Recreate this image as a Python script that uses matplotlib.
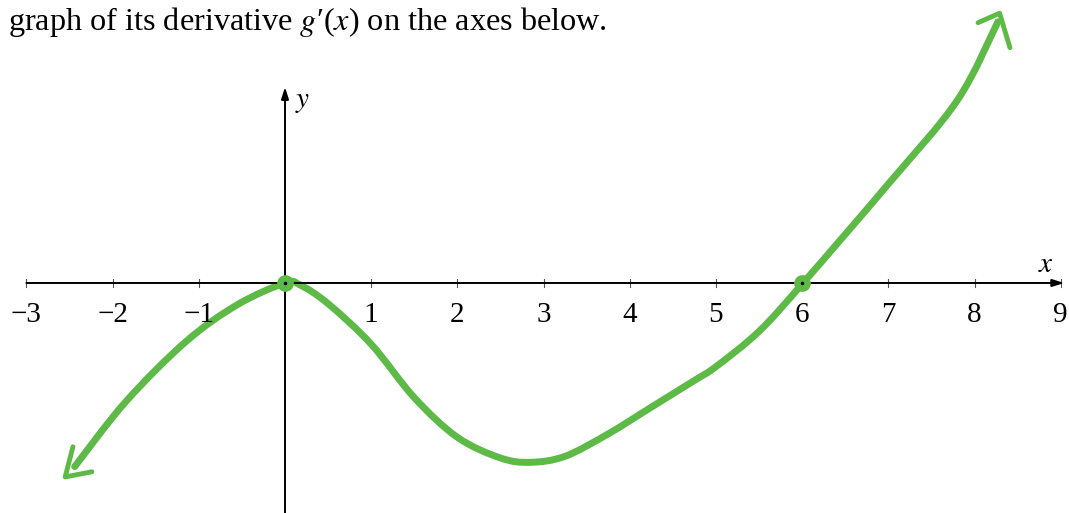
import matplotlib
matplotlib.use("Agg")
import matplotlib.pyplot as plt
from matplotlib.path import Path
from matplotlib.patches import PathPatch

plt.rcParams["font.family"] = ["Liberation Serif", "DejaVu Serif"]
plt.rcParams["mathtext.fontset"] = "stix"

# Sketched derivative curve g'(x)
curve_x = [-2.44, -1.85, -1.15, -0.55, 0.0, 0.17, 0.5, 1.0, 1.5, 2.0,
           2.5, 2.85, 3.25, 3.75, 4.25, 4.75, 5.0, 5.5, 6.01, 7.0, 7.8, 8.27]
curve_y = [-2.13, -1.38, -0.68, -0.25, 0.0, -0.02, -0.24, -0.71,
           -1.33, -1.79, -2.03, -2.08, -2.01, -1.75, -1.44, -1.13, -0.97, -0.56,
           0.0, 1.15, 2.12, 3.03]

# Hand-drawn arrowheads at both ends
left_head_x = [-2.46, -2.55, -2.24]
left_head_y = [-1.90, -2.25, -2.19]
right_head_x = [8.04, 8.29, 8.41]
right_head_y = [3.02, 3.13, 2.73]

# Marked zeros of g'
zeros_x = [0, 6]
zeros_y = [0, 0]

tick_values = [-3, -2, -1, 1, 2, 3, 4, 5, 6, 7, 8, 9]
tick_labels = ["\u22123", "\u22122", "\u22121", "1", "2", "3", "4", "5", "6", "7", "8", "9"]

green = "#5dba46"
unit = 86.2  # pixels per unit


def smooth_path(xs, ys):
    """Cubic Bezier path through the given points (Catmull-Rom tangents)."""
    pts = list(zip(xs, ys))
    verts = [pts[0]]
    codes = [Path.MOVETO]
    n = len(pts)
    for i in range(n - 1):
        p0 = pts[i - 1] if i > 0 else pts[i]
        p1 = pts[i]
        p2 = pts[i + 1]
        p3 = pts[i + 2] if i + 2 < n else pts[i + 1]
        c1 = (p1[0] + (p2[0] - p0[0]) / 6, p1[1] + (p2[1] - p0[1]) / 6)
        c2 = (p2[0] - (p3[0] - p1[0]) / 6, p2[1] - (p3[1] - p1[1]) / 6)
        verts += [c1, c2, p2]
        codes += [Path.CURVE4] * 3
    return Path(verts, codes)


fig = plt.figure(figsize=(10.69, 5.13), dpi=100)
ax = fig.add_axes([0, 0, 1, 1])
ax.set_xlim(-285 / unit, (1069 - 285) / unit)
ax.set_ylim(-(513 - 283) / unit, 283 / unit)
ax.axis("off")

arrow_style = "-|>,head_length=0.7,head_width=0.22"
# x axis with arrow
ax.annotate("", xy=(9.04, 0), xytext=(-3.0, 0),
            arrowprops=dict(arrowstyle=arrow_style, color="black", lw=1.4,
                            shrinkA=0, shrinkB=0))
# y axis with arrow
ax.annotate("", xy=(0, (283 - 87) / unit), xytext=(0, -2.7),
            arrowprops=dict(arrowstyle=arrow_style, color="black", lw=1.4,
                            shrinkA=0, shrinkB=0))

tick_half = 4 / unit
for v, lab in zip(tick_values, tick_labels):
    ax.plot([v, v], [-tick_half, tick_half], color="#555555", lw=0.8)
    ax.text(v, -0.22, lab, ha="center", va="top", fontsize=21)

ax.text(8.83, 0.06, "$x$", ha="center", va="bottom", fontsize=21)
ax.text(0.12, (283 - 102) / unit, "$y$", ha="left", va="center", fontsize=21)

# curve
ax.add_patch(PathPatch(smooth_path(curve_x, curve_y), facecolor="none",
                       edgecolor=green, lw=5, capstyle="round", joinstyle="round"))
ax.plot(left_head_x, left_head_y, color=green, lw=3.5, solid_capstyle="round",
        solid_joinstyle="round")
ax.plot(right_head_x, right_head_y, color=green, lw=3.5, solid_capstyle="round",
        solid_joinstyle="round")

ax.plot(zeros_x, zeros_y, "o", color=green, markersize=11, zorder=5)
ax.plot(zeros_x, zeros_y, "o", color="black", markersize=1.5, zorder=6)

fig.text(8 / 1069, 1 - 30 / 513,
         "graph of its derivative $g$\u2032($x$) on the axes below.",
         ha="left", va="baseline", fontsize=23.2)

fig.savefig("out.png", dpi=100)
